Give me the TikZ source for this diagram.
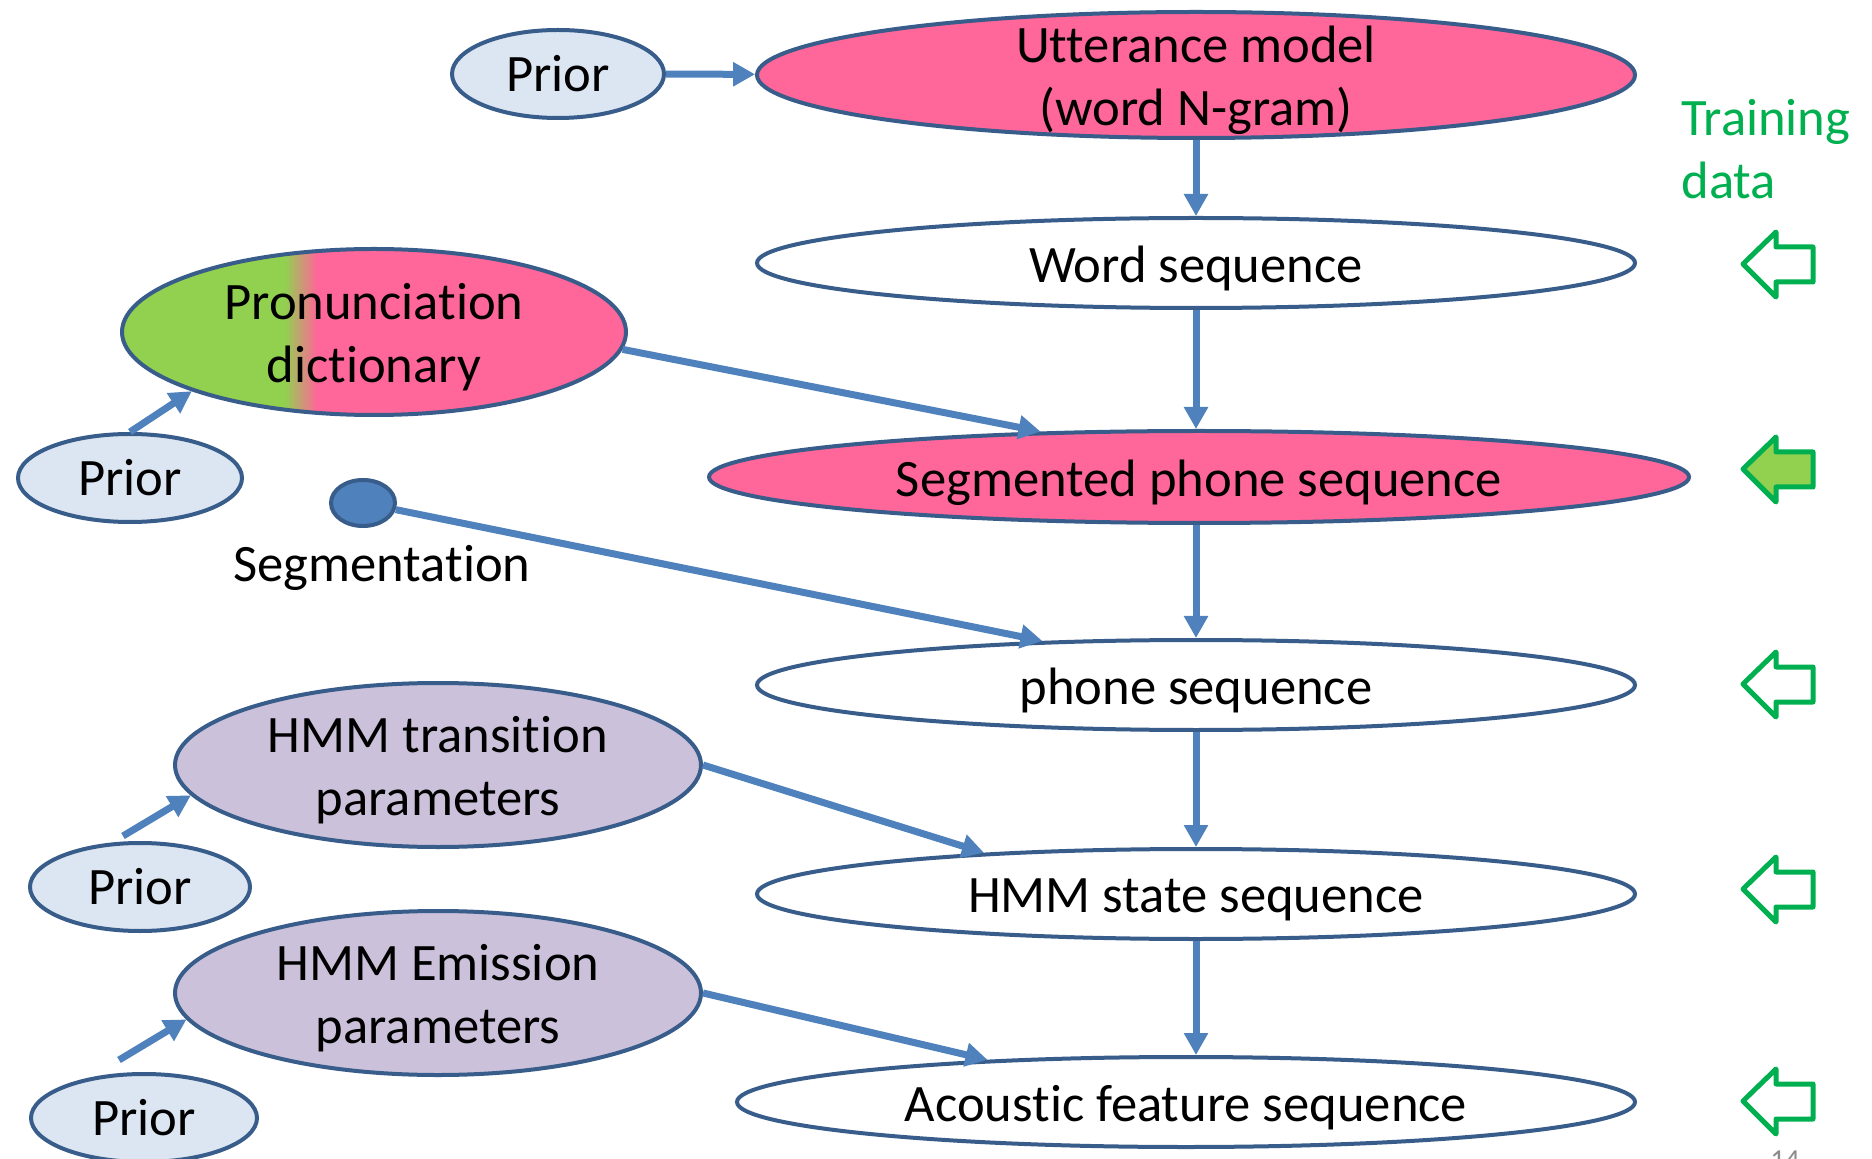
\documentclass[tikz,border=0pt]{standalone}
\usepackage{fontspec}
\setmainfont{Carlito}[Ligatures=NoCommon]
\usetikzlibrary{shapes.geometric,arrows.meta}
\definecolor{pinkfill}{HTML}{FF6699}
\definecolor{priorfill}{HTML}{DCE6F2}
\definecolor{rim}{HTML}{385D8A}
\definecolor{hmmfill}{HTML}{CCC1DA}
\definecolor{linkblue}{HTML}{4F81BD}
\definecolor{leafgreen}{HTML}{92D050}
\definecolor{datagreen}{HTML}{00B050}
\definecolor{pagegray}{HTML}{8C8C8C}
\newdimen\pxu \pxu=0.5pt
\begin{document}
\begin{tikzpicture}[x=0.5pt,y=-0.5pt,
  font=\fontsize{26.3}{31.5}\selectfont,
  blob/.style={ellipse, draw=rim, line width=2pt, inner sep=0pt},
  prior/.style={blob, fill=priorfill, minimum width=#1\pxu, minimum height=88\pxu},
  seqbox/.style={blob, fill=white, minimum width=#1\pxu, minimum height=90\pxu},
  plain text/.style={inner sep=0pt, align=center, text=black},
  label text/.style={plain text, yshift=-2.75pt},
  link/.style={draw=linkblue, line width=3.5pt, -{Triangle[length=11pt,width=11.5pt]}},
  pics/datain/.style={code={
    \draw[datagreen, line width=2.5pt, line join=round, fill=#1]
      (0,0) -- (33,-32) -- (33,-17) -- (70,-17) -- (70,18) -- (33,18) -- (33,33) -- cycle;}}
]
\useasboundingbox (0,0) rectangle (1872,1159);
\fill[white] (0,0) rectangle (1872,1159);

% main chain of sequences
\node[blob, fill=pinkfill, minimum width=878\pxu, minimum height=126\pxu] (utt) at (1196,75) {};
\node[label text] (utt-t) at (utt) {Utterance model\\(word N-gram)};
\node[seqbox=878] (word) at (1196,263) {};
\node[label text] (word-t) at (word) {Word sequence};
\node[blob, fill=pinkfill, minimum width=980\pxu, minimum height=92\pxu] (seg) at (1199,477) {};
\node[label text] (seg-t) at (seg) {Segmented phone sequence};
\node[seqbox=878] (phone) at (1196,685) {};
\node[label text] (phone-t) at (phone) {phone sequence};
\node[seqbox=878] (state) at (1196,894) {};
\node[label text] (state-t) at (state) {HMM state sequence};
\node[seqbox=898] (ac) at (1186,1102) {};
\node[label text] (ac-t) at (ac) {Acoustic feature sequence};

% parameter nodes (dictionary fill: green on the left, pink on the right)
\node[blob, minimum width=504\pxu, minimum height=166\pxu,
  path picture={
    \fill[leafgreen] (-270,-100) rectangle (-89,100);
    \shade[left color=leafgreen, right color=pinkfill] (-89,-100) rectangle (-57,100);
    \fill[pinkfill] (-57,-100) rectangle (270,100);
  }] (pron) at (374,332) {};
\node[label text] (pron-t) at (pron) {Pronunciation\\dictionary};
\node[blob, fill=hmmfill, minimum width=526\pxu, minimum height=164\pxu] (trans) at (438,765) {};
\node[label text] (trans-t) at (trans) {HMM transition\\parameters};
\node[blob, fill=hmmfill, minimum width=526\pxu, minimum height=164\pxu] (em) at (438,993) {};
\node[label text] (em-t) at (em) {HMM Emission\\parameters};
\node[blob, fill=linkblue, minimum width=64\pxu, minimum height=46\pxu] (segdot) at (363,503) {};
\node[plain text] (segdot-t) at (382,568) {Segmentation};

% priors
\node[prior=212] (prior1) at (558,74) {};
\node[plain text] (prior1-t) at (prior1) {Prior};
\node[prior=224] (prior2) at (130,478) {};
\node[plain text] (prior2-t) at (prior2) {Prior};
\node[prior=220] (prior3) at (140,887) {};
\node[plain text] (prior3-t) at (prior3) {Prior};
\node[prior=226] (prior4) at (144,1118) {};
\node[plain text] (prior4-t) at (prior4) {Prior};
\coordinate (p3tail) at (123,836);
\coordinate (p4tail) at (119,1060);

% connectors
\draw[link] (prior1) -- (utt);
\draw[link] (utt) -- (word);
\draw[link] (word) -- (word |- seg.north);
\draw[link] (prior2.north) -- (pron.198);
\draw[link] (pron.-4) -- (seg.164);
\draw[link] (segdot) -- (phone.164);
\draw[link] (phone.north |- seg.south) -- (phone.north);
\draw[link] (phone) -- (state);
\draw[link] (p3tail) -- (trans.187);
\draw[link] (trans.east) -- (state.169);
\draw[link] (state.south) -- (state.south |- ac.north);
\draw[link] (p4tail) -- (em.186);
\draw[link] (em.east) -- (ac.168);

% training data markers
\node[inner sep=0pt, text=datagreen, align=left, anchor=west] (train-t) at (1681,149) {Training\\data};
\pic at (1743,264) {datain=white};
\pic at (1743,469) {datain=leafgreen};
\pic at (1743,684) {datain=white};
\pic at (1743,889) {datain=white};
\pic at (1743,1101) {datain=white};

% slide number
\node[inner sep=0pt, anchor=north, text=pagegray, font=\fontsize{14.5}{17}\selectfont] (pageno) at (1785,1150) {14};
\end{tikzpicture}
\end{document}
